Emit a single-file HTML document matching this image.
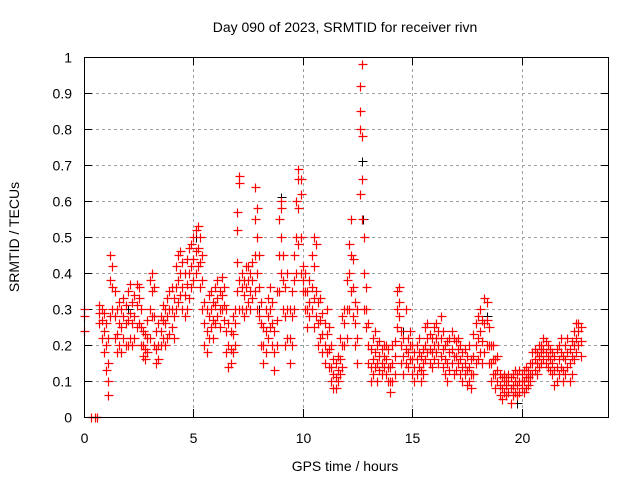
<!DOCTYPE html>
<html><head><meta charset="utf-8"><style>
body{margin:0;background:#fff}
svg{display:block;font-family:"Liberation Sans",sans-serif}
</style></head><body>
<svg id="chart" width="640" height="480" viewBox="0 0 640 480" xmlns="http://www.w3.org/2000/svg">
<rect width="640" height="480" fill="#fff"/>
<text x="345" y="32" font-size="14" text-anchor="middle">Day 090 of 2023, SRMTID for receiver rivn</text>
<g id="grid"></g>
<g id="axes"></g>
<g id="marks2"></g>
<g id="marks"></g>
<rect x="84.5" y="57.5" width="524" height="360" fill="none" stroke="#000" stroke-width="1"/>
<text x="345" y="471" font-size="14" text-anchor="middle">GPS time / hours</text>
<text x="19" y="237" font-size="14" text-anchor="middle" transform="rotate(-90 19 237)">SRMTID / TECUs</text>
</svg>
<script>
const xTicks=[0,5,10,15,20];
const yTicks=[0,0.1,0.2,0.3,0.4,0.5,0.6,0.7,0.8,0.9,1];
const yTickLabels=["0","0.1","0.2","0.3","0.4","0.5","0.6","0.7","0.8","0.9","1"];
const times=[0.0,0.3,0.5,0.6,0.7,0.8,0.9,
1.0,1.1,1.2,1.3,1.4,1.5,1.6,1.7,1.8,1.9,
2.0,2.1,2.2,2.3,2.4,2.5,2.6,2.7,2.8,2.9,
3.0,3.1,3.2,3.3,3.4,3.5,3.6,3.7,3.8,3.9,
4.0,4.1,4.2,4.3,4.4,4.5,4.6,4.7,4.8,4.9,
5.0,5.1,5.2,5.3,5.4,5.5,5.6,5.7,5.8,5.9,
6.0,6.1,6.2,6.3,6.4,6.5,6.6,6.7,6.8,6.9,
7.0,7.1,7.2,7.3,7.4,7.5,7.6,7.7,7.8,7.9,
8.0,8.1,8.2,8.3,8.4,8.5,8.6,8.7,8.8,8.9,
9.0,9.1,9.2,9.3,9.4,9.5,9.6,9.7,9.8,9.9,
10.0,10.1,10.2,10.3,10.4,10.5,10.6,10.7,10.8,10.9,
11.0,11.1,11.2,11.3,11.4,11.5,11.6,11.7,11.8,11.9,
12.0,12.1,12.2,12.3,12.4,12.5,12.6,12.7,12.8,12.9,
13.0,13.1,13.2,13.3,13.4,13.5,13.6,13.7,13.8,13.9,
14.0,14.1,14.2,14.3,14.4,14.5,14.6,14.7,14.8,14.9,
15.0,15.1,15.2,15.3,15.4,15.5,15.6,15.7,15.8,15.9,
16.0,16.1,16.2,16.3,16.4,16.5,16.6,16.7,16.8,16.9,
17.0,17.1,17.2,17.3,17.4,17.5,17.6,17.7,17.8,17.9,
18.0,18.1,18.2,18.3,18.4,18.5,18.6,18.7,18.8,18.9,
19.0,19.1,19.2,19.3,19.4,19.5,19.6,19.7,19.8,19.9,
20.0,20.1,20.2,20.3,20.4,20.5,20.6,20.7,20.8,20.9,
21.0,21.1,21.2,21.3,21.4,21.5,21.6,21.7,21.8,21.9,
22.0,22.1,22.2,22.3,22.4,22.5,22.6,22.7];
const values=[[0.24,0.28,0.30],[0],[0],[0],[0.26,0.29,0.31],[0.22,0.27,0.30],[0.18,0.24,0.29],
[0.13,0.2,0.26],[0.06,0.1,0.15,0.22],[0.28,0.38,0.45],[0.3,0.36,0.42],[0.22,0.28,0.35],[0.18,0.23,0.3],[0.2,0.26,0.32],[0.18,0.25,0.3],[0.22,0.28,0.33],[0.2,0.26,0.31],
[0.2,0.27,0.35],[0.22,0.29,0.37],[0.2,0.26,0.32],[0.22,0.28,0.34],[0.25,0.31,0.37],[0.26,0.33,0.36],[0.2,0.25,0.3],[0.17,0.2,0.24],[0.16,0.19,0.23],[0.18,0.22,0.27],
[0.22,0.3,0.38],[0.28,0.35,0.4],[0.2,0.28,0.36],[0.15,0.19,0.24],[0.16,0.2,0.26],[0.2,0.24,0.28],[0.22,0.27,0.31],[0.2,0.26,0.3],[0.22,0.28,0.33],[0.23,0.3,0.35],
[0.25,0.3,0.36],[0.22,0.28,0.33],[0.3,0.36,0.42],[0.32,0.38,0.45],[0.34,0.4,0.46],[0.3,0.36,0.43],[0.28,0.34,0.4],[0.3,0.37,0.44],[0.33,0.4,0.47],[0.36,0.42,0.48],
[0.38,0.44,0.5],[0.4,0.46,0.52],[0.42,0.47,0.53],[0.36,0.43,0.5],[0.3,0.38,0.45],[0.2,0.26,0.32],[0.18,0.24,0.3],[0.22,0.28,0.34],[0.25,0.3,0.35],[0.22,0.27,0.32],
[0.26,0.31,0.36],[0.28,0.33,0.38],[0.25,0.3,0.35],[0.3,0.34,0.39],[0.27,0.31,0.36],[0.18,0.24,0.3],[0.14,0.2,0.26],[0.15,0.19,0.24],[0.18,0.23,0.28],[0.2,0.26,0.3],
[0.35,0.43,0.52,0.57],[0.3,0.38,0.65,0.67],[0.3,0.36,0.4],[0.28,0.34,0.38],[0.3,0.36,0.42],[0.32,0.38,0.42],[0.3,0.35,0.4],[0.33,0.38,0.43],[0.35,0.45,0.55,0.64],[0.3,0.4,0.5,0.58],
[0.28,0.36,0.45],[0.2,0.26,0.32],[0.15,0.2,0.25],[0.18,0.24,0.3],[0.22,0.28,0.33],[0.25,0.3,0.36],[0.2,0.26,0.32],[0.13,0.18,0.24],[0.2,0.27,0.35],[0.35,0.45,0.55],
[0.4,0.5,0.58,0.6],[0.3,0.38,0.45],[0.2,0.28,0.36],[0.22,0.3,0.4],[0.15,0.22,0.3],[0.2,0.28,0.35],[0.3,0.38,0.45],[0.4,0.5,0.6],[0.48,0.58,0.66,0.69],[0.4,0.5,0.62,0.66],
[0.35,0.38,0.42],[0.3,0.35,0.4],[0.25,0.3,0.35],[0.28,0.32,0.38],[0.3,0.36,0.45],[0.25,0.33,0.42,0.5],[0.28,0.35,0.48],[0.2,0.26,0.32],[0.22,0.27,0.33],[0.18,0.23,0.29],
[0.15,0.2,0.26],[0.18,0.23,0.3],[0.14,0.19,0.25],[0.1,0.14,0.2],[0.08,0.12,0.16],[0.08,0.11,0.15],[0.1,0.13,0.17],[0.12,0.16,0.22],[0.14,0.2,0.28],[0.2,0.26,0.3],
[0.22,0.3,0.38],[0.3,0.4,0.48],[0.35,0.45,0.55],[0.28,0.36,0.44],[0.2,0.26,0.32],[0.15,0.22,0.3],[0.62,0.8,0.85,0.92],[0.55,0.66,0.78,0.98],[0.3,0.4,0.5],[0.25,0.3,0.36],
[0.15,0.2,0.26],[0.1,0.14,0.19],[0.12,0.16,0.22],[0.14,0.18,0.24],[0.1,0.15,0.2],[0.13,0.17,0.21],[0.12,0.15,0.19],[0.14,0.17,0.2],[0.12,0.16,0.2],[0.1,0.14,0.19],
[0.07,0.1,0.14],[0.1,0.15,0.2],[0.12,0.17,0.21],[0.25,0.3,0.35],[0.28,0.32,0.36],[0.15,0.2,0.24],[0.12,0.17,0.22],[0.15,0.19,0.3],[0.14,0.18,0.22],[0.16,0.2,0.24],
[0.12,0.16,0.2],[0.1,0.14,0.18],[0.12,0.16,0.2],[0.14,0.18,0.22],[0.1,0.13,0.17],[0.12,0.15,0.19],[0.16,0.2,0.25],[0.18,0.22,0.26],[0.15,0.19,0.23],[0.14,0.18,0.22],
[0.16,0.2,0.25],[0.18,0.22,0.26],[0.15,0.2,0.24],[0.17,0.22,0.28],[0.14,0.19,0.24],[0.12,0.16,0.2],[0.1,0.15,0.21],[0.13,0.18,0.22],[0.15,0.19,0.24],[0.12,0.17,0.22],
[0.13,0.17,0.21],[0.15,0.19,0.22],[0.12,0.16,0.2],[0.1,0.14,0.18],[0.12,0.15,0.19],[0.09,0.13,0.17],[0.1,0.14,0.2],[0.08,0.12,0.16],[0.12,0.17,0.23],[0.15,0.2,0.26],
[0.16,0.22,0.28],[0.18,0.24,0.3],[0.15,0.21,0.27],[0.18,0.26,0.33],[0.2,0.27,0.32],[0.15,0.2,0.25],[0.1,0.15,0.2],[0.12,0.16,0.2],[0.08,0.12,0.16],[0.1,0.13,0.17],
[0.06,0.09,0.12],[0.05,0.08,0.11],[0.07,0.1,0.12],[0.06,0.09,0.11],[0.07,0.1,0.12],[0.04,0.08,0.11],[0.06,0.09,0.12],[0.07,0.1,0.13],[0.06,0.09,0.12],[0.07,0.1,0.13],
[0.08,0.1,0.12],[0.07,0.1,0.13],[0.08,0.11,0.14],[0.09,0.11,0.13],[0.1,0.12,0.15],[0.12,0.15,0.18],[0.13,0.16,0.19],[0.12,0.15,0.18],[0.14,0.17,0.2],[0.15,0.18,0.2],
[0.16,0.19,0.22],[0.15,0.18,0.21],[0.14,0.17,0.2],[0.13,0.16,0.19],[0.12,0.15,0.18],[0.09,0.13,0.17],[0.1,0.14,0.19],[0.12,0.16,0.2],[0.14,0.18,0.22],[0.1,0.13,0.17],
[0.12,0.16,0.2],[0.14,0.18,0.22],[0.1,0.15,0.19],[0.12,0.17,0.21],[0.16,0.2,0.24],[0.18,0.22,0.26],[0.2,0.24,0.26],[0.17,0.21,0.25]];
const blackTimes=[2.0,5.1,8.0,9.0,9.7,12.7,12.75,14.6,18.4,19.8,22.4];
const blackValues=[0.3,0.5,0.3,0.61,0.5,0.71,0.55,0.24,0.28,0.04,0.24];

const X0=84,X1=609,Y0=417,Y1=57,XMAX=24;
function xs(t){return X0+(X1-X0)*t/XMAX;}
function ys(v){return Y0-(Y0-Y1)*v;}
const NS="http://www.w3.org/2000/svg";
function mk(tag,attrs,parent){const e=document.createElementNS(NS,tag);for(const k in attrs)e.setAttribute(k,attrs[k]);parent.appendChild(e);return e;}
const grid=document.getElementById('grid'),axes=document.getElementById('axes');
yTicks.forEach((v,i)=>{
  const y=Math.round(ys(v))+0.5;
  if(v>0&&v<1){const g=mk('line',{x1:X0,x2:X1,y1:y,y2:y,stroke:'#a0a0a0','stroke-dasharray':'3,3'},grid);
  
  }
  const t1=mk('line',{x1:X0,x2:X0+8,y1:y,y2:y,stroke:'#000'},axes);
  
  
  const t2=mk('line',{x1:X1-8,x2:X1,y1:y,y2:y,stroke:'#000'},axes);
  
  
  const l=mk('text',{x:72,y:y+5,'font-size':14,'text-anchor':'end'},axes);
  l.textContent=yTickLabels[i];
  
  
});
xTicks.forEach(t=>{
  const x=Math.round(xs(t))+0.5;
  if(t>0){const g=mk('line',{x1:x,x2:x,y1:Y1,y2:Y0,stroke:'#a0a0a0','stroke-dasharray':'3,3'},grid);
  
  }
  const t1=mk('line',{x1:x,x2:x,y1:Y0-8,y2:Y0,stroke:'#000'},axes);
  
  
  const t2=mk('line',{x1:x,x2:x,y1:Y1,y2:Y1+8,stroke:'#000'},axes);
  
  
  const l=mk('text',{x:x,y:443,'font-size':14,'text-anchor':'middle'},axes);
  l.textContent=String(t);
  
  
});
function plusD(x,y){x=Math.round(x)+0.5;y=Math.round(y)+0.5;return `M${x-4} ${y}H${x+5}M${x} ${y-4}V${y+5}`;}
const red=document.getElementById('marks'),blk=document.getElementById('marks2');
times.forEach((t,i)=>{values[i].forEach(v=>{
  const p=mk('path',{d:plusD(xs(t),ys(v)),stroke:'#ff0000','stroke-width':1.2,fill:'none'},red);
  
  
});});
blackTimes.forEach((t,i)=>{
  const p=mk('path',{d:plusD(xs(t),ys(blackValues[i])),stroke:'#000000','stroke-width':1,fill:'none'},blk);
  
  
});
</script>
</body></html>
